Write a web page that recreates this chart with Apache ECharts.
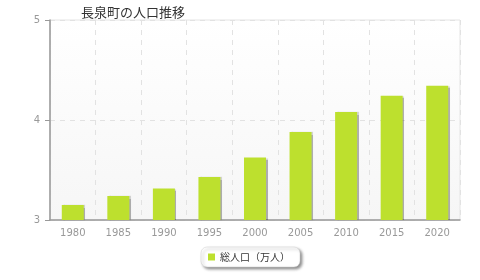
<!DOCTYPE html>
<html><head><meta charset="utf-8">
<script src="https://cdn.jsdelivr.net/npm/echarts@6/dist/echarts.min.js"></script>
<style>html,body{margin:0;padding:0;background:#fff}#c{width:480px;height:280px}</style>
</head><body><div id="c"></div>
<script>
const categories = ['1980','1985','1990','1995','2000','2005','2010','2015','2020'];
const population = [3.15, 3.24, 3.315, 3.43, 3.625, 3.88, 4.08, 4.243, 4.343];
const yTicks = [3, 4, 5];
const seriesName = '総人口（万人）';
const titleText = '長泉町の人口推移';

const chart = echarts.init(document.getElementById('c'), null, {renderer:'canvas'});
chart.setOption({
  animation:false,
  title:{text:titleText,left:76,top:1,textStyle:{fontSize:13,fontWeight:'normal',color:'#333',fontFamily:'"Noto Sans CJK JP", sans-serif'}},
  grid:{left:50,right:20,top:20,bottom:60,show:true,borderColor:'#e4e4e4',borderWidth:1,
    backgroundColor:new echarts.graphic.LinearGradient(0,0,0,1,[{offset:0,color:'#ffffff'},{offset:1,color:'#f6f6f6'}])},
  xAxis:{type:'category',data:categories,
    axisLine:{lineStyle:{color:'#999',width:1.5}},
    axisTick:{alignWithLabel:true,length:5,lineStyle:{color:'#999'}},
    axisLabel:{color:'#999',fontSize:10,margin:8,fontFamily:'"DejaVu Sans", sans-serif'},
    splitLine:{show:true,lineStyle:{color:'#e2e2e2',type:[5,5]}}},
  yAxis:{type:'value',min:yTicks[0],max:yTicks[yTicks.length-1],interval:1,
    axisLine:{show:true,lineStyle:{color:'#999',width:1.5}},
    axisTick:{show:true,length:5,lineStyle:{color:'#999'}},
    axisLabel:{color:'#999',fontSize:10,margin:10,fontFamily:'"DejaVu Sans", sans-serif'},
    splitLine:{show:true,lineStyle:{color:'#e2e2e2',type:[5,5]}}},
  legend:{data:[seriesName],bottom:13,left:201,itemWidth:7,itemHeight:7,icon:'rect',itemGap:5,
    padding:[5,10,5,7],backgroundColor:'#fff',borderColor:'#ccc',borderWidth:0.5,borderRadius:6,
    shadowColor:'rgba(0,0,0,0.45)',shadowBlur:3,shadowOffsetX:2,shadowOffsetY:2,
    textStyle:{fontSize:10,color:'#333',fontFamily:'"Noto Sans CJK JP", sans-serif'}},
  series:[{name:seriesName,type:'bar',data:population,barWidth:22,
    itemStyle:{color:'#bde02e',shadowColor:'rgba(0,0,0,0.3)',shadowOffsetX:1.5,shadowOffsetY:0,shadowBlur:1}}]
});
</script></body></html>
